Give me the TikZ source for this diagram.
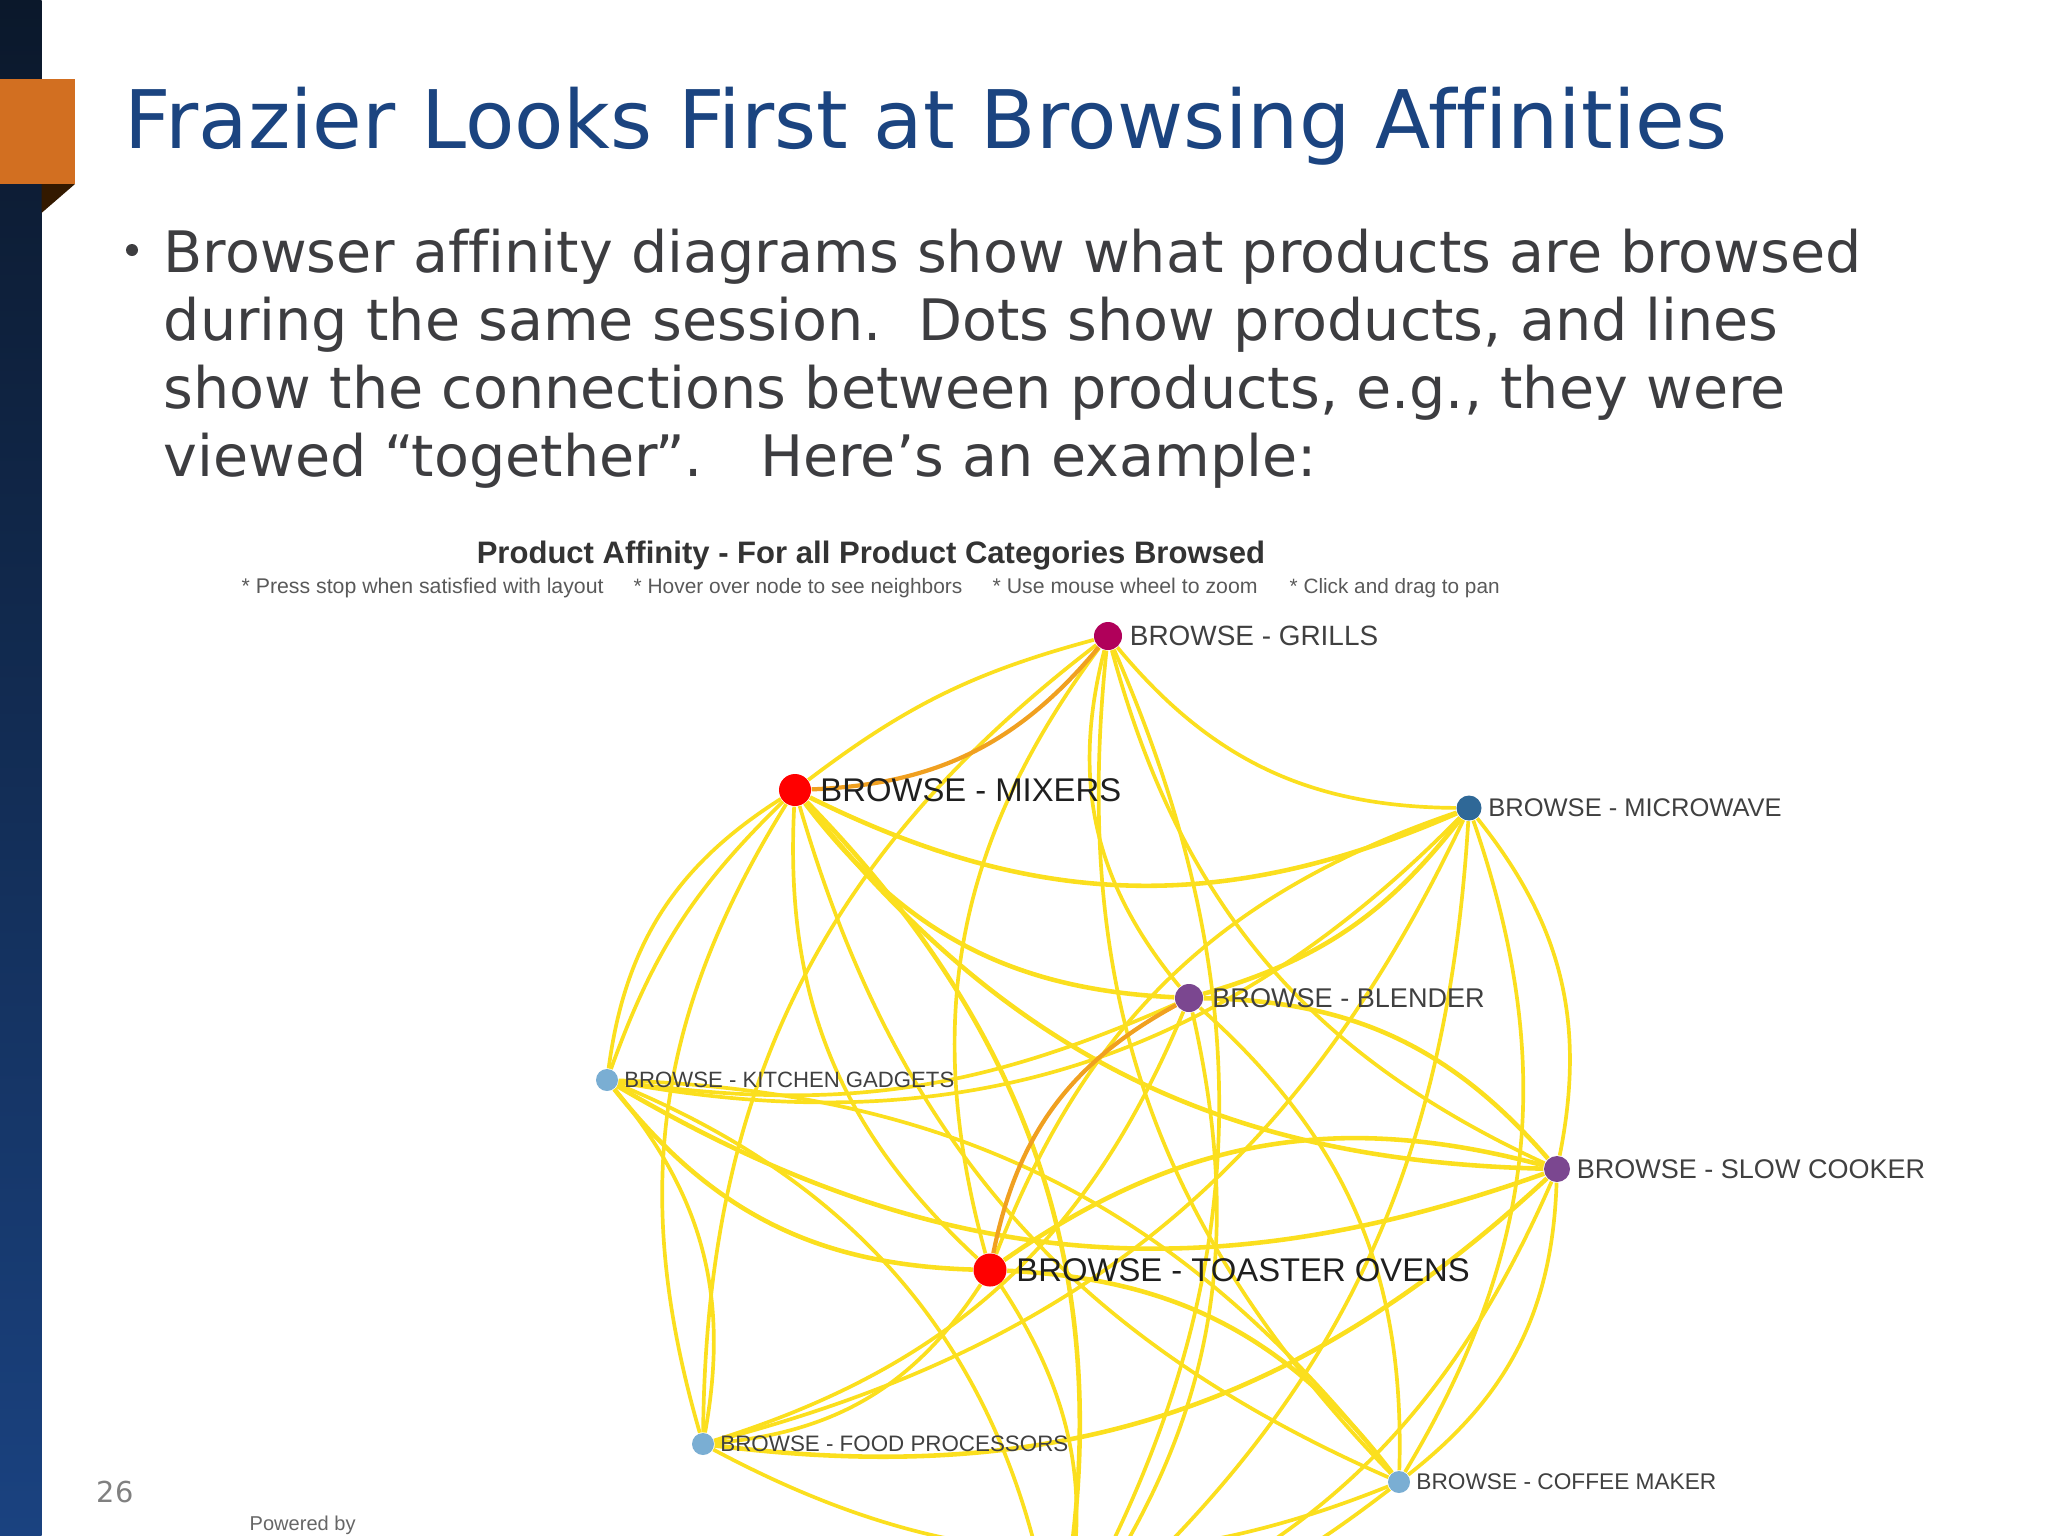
\documentclass[tikz,border=0pt]{standalone}
\usepackage{fontspec}
\setmainfont[Ligatures=NoCommon]{DejaVu Sans}
\newfontfamily\chartfont{Liberation Sans}
\usetikzlibrary{positioning,backgrounds}

\definecolor{bandtop}{HTML}{0B182B}
\definecolor{bandbottom}{HTML}{1A4280}
\definecolor{tabcolor}{HTML}{D26F21}
\definecolor{titlecolor}{HTML}{1B4480}
\definecolor{bodycolor}{HTML}{3D3D40}
\definecolor{edgeyellow}{HTML}{FBDF1E}
\definecolor{edgeorange}{HTML}{F0A020}
\definecolor{dotgrills}{HTML}{B0005A}
\definecolor{dotblue}{HTML}{2F6897}
\definecolor{dotpurple}{HTML}{7B4790}
\definecolor{dotlight}{HTML}{7AAED3}

\tikzset{
	dot/.style={circle, inner sep=0pt, draw=none},
	lbl/.style={inner sep=0pt, text=black!75, font=\chartfont\fontsize{#1}{10}\selectfont},
	lblbig/.style={inner sep=0pt, text=black!88, font=\chartfont\fontsize{9.33}{12}\selectfont},
	edgethin/.style={draw=edgeyellow, line width=1.05pt},
	edgethick/.style={draw=edgeyellow, line width=1.3pt},
	edgehot/.style={draw=edgeorange, line width=1.2pt},
	bodyline/.style={anchor=base west, inner sep=0pt, text=bodycolor, font=\fontsize{16.26}{20}\selectfont},
	chartnote/.style={anchor=base west, inner sep=0pt, text=black!65, font=\chartfont\fontsize{#1}{8}\selectfont}
}

\begin{document}
\begin{tikzpicture}[x=0.01cm, y=-0.01cm]
	% page setup
	\def\pagew{2048}
	\def\pageh{1536}
	\useasboundingbox (0, 0) rectangle (\pagew, \pageh);

	% side band
	\shade[top color=bandtop, bottom color=bandbottom] (0, 0) rectangle (41.5, \pageh);
	\fill[black!80!orange] (41.5, 184) -- (75, 184) -- (41.5, 213) -- cycle;
	\fill[tabcolor] (0, 79) rectangle (75, 184);

	% heading and text
	\node[anchor=base west, inner sep=0pt, text=titlecolor, font=\fontsize{22.97}{26}\selectfont] (title) at (124, 148) {Frazier Looks First at Browsing Affinities};
	\fill[bodycolor] (132, 250) circle (6);
	\node[bodyline] (line1) at (163, 272) {Browser affinity diagrams show what products are browsed};
	\node[bodyline] (line2) at (163, 340) {during the same session.\ \ Dots show products, and lines};
	\node[bodyline] (line3) at (163, 408) {show the connections between products, e.g., they were};
	\node[bodyline] (line4) at (163, 476) {viewed “\kern-0.8pt together\kern-0.8pt”.\ \ \ \kern0.8pt Here’s an example:};
	\node[anchor=base west, inner sep=0pt, text=black!50, font=\fontsize{8.2}{10}\selectfont] (pagenum) at (96, 1502) {26};
	\node[anchor=base west, inner sep=0pt, text=black!60, font=\chartfont\fontsize{5.7}{8}\selectfont] (powered) at (249, 1530) {Powered by};

	% chart heading
	\node[anchor=base, inner sep=0pt, text=black!80, font=\chartfont\bfseries\fontsize{8.83}{10}\selectfont] (charttitle) at (871, 563) {Product Affinity - For all Product Categories Browsed};
	\node[chartnote=6.05] (note1) at (241, 593) {* Press stop when satisfied with layout};
	\node[chartnote=5.94] (note2) at (633, 593) {* Hover over node to see neighbors};
	\node[chartnote=6.05] (note3) at (992, 593) {* Use mouse wheel to zoom};
	\node[chartnote=5.9] (note4) at (1289, 593) {* Click and drag to pan};

	% dots
	\node[dot, fill=dotgrills, minimum size=0.28cm] (grills) at (1108, 636) {};
	\node[dot, fill=red, minimum size=0.32cm] (mixers) at (795, 790) {};
	\node[dot, fill=dotblue, minimum size=0.25cm] (microwave) at (1469, 808) {};
	\node[dot, fill=dotpurple, minimum size=0.28cm] (blender) at (1189, 998) {};
	\node[dot, fill=dotlight, minimum size=0.22cm] (gadgets) at (607, 1080) {};
	\node[dot, fill=dotpurple, minimum size=0.26cm] (slowcooker) at (1557, 1169) {};
	\node[dot, fill=red, minimum size=0.33cm] (toaster) at (990, 1270) {};
	\node[dot, fill=dotlight, minimum size=0.22cm] (processors) at (703, 1444) {};
	\node[dot, fill=dotlight, minimum size=0.22cm] (coffee) at (1399, 1482) {};
	\coordinate (offpage) at (1055, 1650);

	% dot labels
	\node[lbl=7.94, right=0.065cm of grills] (grillstext) {BROWSE - GRILLS};
	\node[lblbig, right=0.08cm of mixers] (mixerstext) {BROWSE - MIXERS};
	\node[lbl=7.25, right=0.055cm of microwave] (microwavetext) {BROWSE - MICROWAVE};
	\node[lbl=7.7, right=0.08cm of blender] (blendertext) {BROWSE - BLENDER};
	\node[lbl=6.3, right=0.05cm of gadgets] (gadgetstext) {BROWSE - KITCHEN GADGETS};
	\node[lbl=7.68, right=0.055cm of slowcooker] (slowcookertext) {BROWSE - SLOW COOKER};
	\node[lblbig, right=0.085cm of toaster] (toastertext) {BROWSE - TOASTER OVENS};
	\node[lbl=6.36, right=0.05cm of processors] (processorstext) {BROWSE - FOOD PROCESSORS};
	\node[lbl=6.45, right=0.05cm of coffee] (coffeetext) {BROWSE - COFFEE MAKER};

	% connections
	\begin{scope}[on background layer]
		\clip (0, 0) rectangle (\pagew, \pageh);
		\foreach \from/\to/\ang in {
			grills/mixers/-11, grills/processors/-26, grills/toaster/-26, grills/coffee/-25,
			grills/blender/-27, grills/offpage/27, grills/slowcooker/-25, grills/microwave/-25,
			mixers/gadgets/-25, mixers/gadgets/-13, mixers/processors/-24, mixers/toaster/-25,
			mixers/coffee/-25, microwave/toaster/-25, microwave/gadgets/28, microwave/processors/25,
			microwave/offpage/23, microwave/coffee/25, microwave/slowcooker/25, blender/gadgets/16,
			blender/processors/25, blender/offpage/25, blender/coffee/25, gadgets/coffee/25,
			gadgets/offpage/30, gadgets/processors/25, toaster/processors/26, toaster/offpage/25,
			slowcooker/offpage/23, slowcooker/coffee/25, coffee/offpage/12, processors/coffee/-25
		}
			\draw[edgethin] (\from) to[bend left=\ang] (\to);
		\foreach \from/\to/\ang in {
			mixers/offpage/28, mixers/slowcooker/-25, mixers/blender/-25, mixers/microwave/-25,
			microwave/blender/18, blender/slowcooker/24, gadgets/slowcooker/-25, gadgets/toaster/-25,
			toaster/slowcooker/25, toaster/coffee/25, slowcooker/processors/25
		}
			\draw[edgethick] (\from) to[bend left=\ang] (\to);
		\draw[edgehot] (grills) to[bend left=24] (mixers);
		\draw[edgehot] (blender) to[bend left=-25] (toaster);
	\end{scope}
\end{tikzpicture}
\end{document}
